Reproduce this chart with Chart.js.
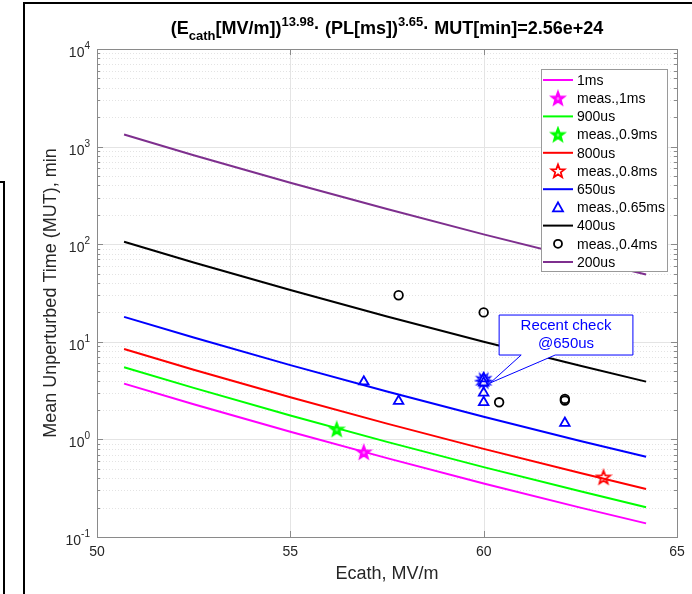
<!DOCTYPE html>
<html lang="en">
<head>
<meta charset="utf-8">
<title>Mean Unperturbed Time vs Ecath</title>
<script src="https://cdn.jsdelivr.net/npm/chart.js@4.4.1/dist/chart.umd.min.js"></script>
<style>
  html, body { margin: 0; padding: 0; background: #fff; }
  #wrap { width: 692px; height: 594px; }
</style>
</head>
<body>
<div id="wrap"><canvas id="mut" width="692" height="594"></canvas></div>
<script>
// fit lines: E^13.98 * PL^3.65 * MUT = 2.56e24, sampled along Ecath
const fitE      = [50.7, 52.5, 55, 57.5, 60, 62.5, 64.2];
const fit1ms    = [3.73, 2.29, 1.20, 0.643, 0.354, 0.200, 0.138];
const fit900us  = [5.49, 3.37, 1.76, 0.944, 0.520, 0.294, 0.202];
const fit800us  = [8.43, 5.18, 2.70, 1.451, 0.800, 0.452, 0.311];
const fit650us  = [18.0, 11.05, 5.77, 3.10, 1.71, 0.965, 0.664];
const fit400us  = [105.8, 65.0, 33.9, 18.2, 10.0, 5.68, 3.91];
const fit200us  = [1329, 816, 426, 229, 126, 71.3, 49.0];

// measurements
const meas1msE   = [56.9];
const meas1ms    = [0.74];
const meas09msE  = [56.2];
const meas09ms   = [1.27];
const meas08msE  = [63.1];
const meas08ms   = [0.41];
const meas065msE = [56.9, 57.8, 60, 60, 60, 60, 62.1];
const meas065ms  = [3.9, 2.47, 4.2, 3.8, 3.0, 2.4, 1.47];
const meas04msE  = [57.8, 60, 60.4, 62.1, 62.1];
const meas04ms   = [30, 20, 2.4, 2.6, 2.5];
const recentE    = [60];
const recentMUT  = [4.0];

const xTicks = [50, 55, 60, 65];
const yExp   = [-1, 0, 1, 2, 3, 4];

const FONT = '"Liberation Sans", Arial, Helvetica, sans-serif';
const AXIS_TXT = '#262626';

function pts(xs, ys) { return xs.map((x, i) => ({ x: x, y: ys[i] })); }

// five point star marker, drawn once into a small canvas
function starMarker(color, r, filled) {
  const c = document.createElement('canvas');
  const s = Math.ceil(r * 2 + 4);
  c.width = s; c.height = s;
  const g = c.getContext('2d');
  g.translate(s / 2, s / 2 + 0.5);
  g.beginPath();
  for (let i = 0; i < 10; i++) {
    const rr = i % 2 === 0 ? r : r * 0.42;
    const a = -Math.PI / 2 + i * Math.PI / 5;
    g.lineTo(rr * Math.cos(a), rr * Math.sin(a));
  }
  g.closePath();
  if (filled) { g.fillStyle = color; g.fill(); }
  g.strokeStyle = color;
  g.lineWidth = 1.8;
  g.stroke();
  if (filled) {
    g.fillStyle = 'rgba(255,255,255,0.45)';
    g.beginPath(); g.arc(0, 0, 1.4, 0, Math.PI * 2); g.fill();
  }
  return c;
}

// spiky burst used to flag the latest check
function burstMarker(color, r) {
  const c = document.createElement('canvas');
  const s = Math.ceil(r * 2 + 4);
  c.width = s; c.height = s;
  const g = c.getContext('2d');
  g.translate(s / 2, s / 2);
  g.beginPath();
  const n = 12;
  for (let i = 0; i < n * 2; i++) {
    const rr = i % 2 === 0 ? r : r * 0.55;
    const a = -Math.PI / 2 + i * Math.PI / n;
    g.lineTo(rr * Math.cos(a), rr * Math.sin(a));
  }
  g.closePath();
  g.strokeStyle = color;
  g.lineWidth = 1.2;
  g.stroke();
  return c;
}

const starMag = starMarker('#ff00ff', 7, true);
const starGrn = starMarker('#00ff00', 7, true);
const starRed = starMarker('#ff0000', 7, false);
const burstBlue = burstMarker('#0000ff', 8);

function lineSet(label, ys, color) {
  return {
    label: label, data: pts(fitE, ys), showLine: true,
    borderColor: color, backgroundColor: color, borderWidth: 2,
    pointRadius: 0, pointHoverRadius: 0, order: 2
  };
}

const datasets = [
  lineSet('1ms', fit1ms, '#ff00ff'),
  { label: 'meas.,1ms', data: pts(meas1msE, meas1ms), pointStyle: starMag, order: 1 },
  lineSet('900us', fit900us, '#00ff00'),
  { label: 'meas.,0.9ms', data: pts(meas09msE, meas09ms), pointStyle: starGrn, order: 1 },
  lineSet('800us', fit800us, '#ff0000'),
  { label: 'meas.,0.8ms', data: pts(meas08msE, meas08ms), pointStyle: starRed, order: 1 },
  lineSet('650us', fit650us, '#0000ff'),
  { label: 'meas.,0.65ms', data: pts(meas065msE, meas065ms), pointStyle: 'triangle',
    pointRadius: 5.5, borderColor: '#0000ff', backgroundColor: 'rgba(0,0,0,0)', borderWidth: 1.8, order: 1 },
  lineSet('400us', fit400us, '#000000'),
  { label: 'meas.,0.4ms', data: pts(meas04msE, meas04ms), pointStyle: 'circle',
    pointRadius: 4.3, borderColor: '#000000', backgroundColor: 'rgba(0,0,0,0)', borderWidth: 1.8, order: 1 },
  lineSet('200us', fit200us, '#7e2f8e'),
  { label: 'recent', data: pts(recentE, recentMUT), pointStyle: burstBlue, order: 0 }
];

// legend rows: [label, kind, color or marker]
const legendRows = [
  ['1ms', 'line', '#ff00ff'],
  ['meas.,1ms', 'img', starMag],
  ['900us', 'line', '#00ff00'],
  ['meas.,0.9ms', 'img', starGrn],
  ['800us', 'line', '#ff0000'],
  ['meas.,0.8ms', 'img', starRed],
  ['650us', 'line', '#0000ff'],
  ['meas.,0.65ms', 'tri', '#0000ff'],
  ['400us', 'line', '#000000'],
  ['meas.,0.4ms', 'circ', '#000000'],
  ['200us', 'line', '#7e2f8e']
];

// callout box in data units, pointer tip near the recent check
const callout = { x0: 60.40, x1: 63.86, yTop: 18.8, yBot: 7.32, gap0: 60.97, gap1: 61.85, tipX: 60.17, tipY: 3.79 };

const axesPlugin = {
  id: 'matlabAxes',
  beforeDatasetsDraw(chart) {
    const { ctx, chartArea: a, scales: { x, y } } = chart;
    ctx.save();
    ctx.fillStyle = '#fff';
    ctx.fillRect(a.left, a.top, a.right - a.left, a.bottom - a.top);
    // minor grid (dotted)
    ctx.strokeStyle = '#e3e3e3';
    ctx.lineWidth = 1;
    ctx.setLineDash([1, 2]);
    for (let e = -1; e < 4; e++) {
      for (let k = 2; k <= 9; k++) {
        const py = Math.round(y.getPixelForValue(k * Math.pow(10, e))) + 0.5;
        ctx.beginPath(); ctx.moveTo(a.left, py); ctx.lineTo(a.right, py); ctx.stroke();
      }
    }
    ctx.setLineDash([]);
    // major grid
    ctx.strokeStyle = '#e4e4e4';
    xTicks.slice(1, -1).forEach(v => {
      const px = Math.round(x.getPixelForValue(v)) + 0.5;
      ctx.beginPath(); ctx.moveTo(px, a.top); ctx.lineTo(px, a.bottom); ctx.stroke();
    });
    yExp.slice(1, -1).forEach(e => {
      const py = Math.round(y.getPixelForValue(Math.pow(10, e))) + 0.5;
      ctx.beginPath(); ctx.moveTo(a.left, py); ctx.lineTo(a.right, py); ctx.stroke();
    });
    ctx.restore();
  },
  afterDatasetsDraw(chart) {
    const { ctx, chartArea: a, scales: { x, y } } = chart;
    ctx.save();
    // axes box and inward ticks
    ctx.strokeStyle = '#8a8a8a';
    ctx.lineWidth = 1;
    ctx.strokeRect(Math.round(a.left) + 0.5, Math.round(a.top) + 0.5,
      Math.round(a.right - a.left), Math.round(a.bottom - a.top));
    ctx.beginPath();
    xTicks.forEach(v => {
      const px = Math.round(x.getPixelForValue(v)) + 0.5;
      ctx.moveTo(px, a.bottom); ctx.lineTo(px, a.bottom - 6);
      ctx.moveTo(px, a.top); ctx.lineTo(px, a.top + 6);
    });
    for (let e = -1; e <= 4; e++) {
      for (let k = 1; k <= 9; k++) {
        if (e === 4 && k > 1) break;
        const py = Math.round(y.getPixelForValue(k * Math.pow(10, e))) + 0.5;
        const len = k === 1 ? 6 : 3;
        ctx.moveTo(a.left, py); ctx.lineTo(a.left + len, py);
        ctx.moveTo(a.right, py); ctx.lineTo(a.right - len, py);
      }
    }
    ctx.stroke();

    // legend
    const L = { x: 541, y: 69, w: 126, h: 202, row: 18.2 };
    ctx.fillStyle = '#fff';
    ctx.fillRect(L.x, L.y, L.w, L.h);
    ctx.strokeStyle = '#9a9a9a';
    ctx.strokeRect(L.x + 0.5, L.y + 0.5, L.w, L.h);
    ctx.font = '14px ' + FONT;
    ctx.textBaseline = 'middle';
    ctx.textAlign = 'left';
    legendRows.forEach((r, i) => {
      const cy = L.y + 11 + i * L.row;
      const mx = 558;
      if (r[1] === 'line') {
        ctx.strokeStyle = r[2]; ctx.lineWidth = 2;
        ctx.beginPath(); ctx.moveTo(543, cy); ctx.lineTo(573, cy); ctx.stroke();
      } else if (r[1] === 'img') {
        ctx.drawImage(r[2], mx - r[2].width / 2, cy - r[2].height / 2);
      } else if (r[1] === 'tri') {
        ctx.strokeStyle = r[2]; ctx.lineWidth = 1.8;
        ctx.beginPath(); ctx.moveTo(mx, cy - 5); ctx.lineTo(mx + 5, cy + 4); ctx.lineTo(mx - 5, cy + 4); ctx.closePath(); ctx.stroke();
      } else {
        ctx.strokeStyle = r[2]; ctx.lineWidth = 1.8;
        ctx.beginPath(); ctx.arc(mx, cy, 4, 0, Math.PI * 2); ctx.stroke();
      }
      ctx.fillStyle = '#000';
      ctx.fillText(r[0], 577, cy + 1);
    });
    ctx.restore();
  },
  afterDraw(chart) {
    const { ctx, chartArea: a, scales: { x, y } } = chart;
    ctx.save();
    // tick labels
    ctx.fillStyle = AXIS_TXT;
    ctx.font = '14px ' + FONT;
    ctx.textAlign = 'center';
    ctx.textBaseline = 'top';
    xTicks.forEach(v => ctx.fillText(String(v), x.getPixelForValue(v), a.bottom + 8));
    yExp.forEach(e => {
      const py = y.getPixelForValue(Math.pow(10, e));
      const ex = String(e);
      ctx.font = '10px ' + FONT;
      const we = ctx.measureText(ex).width;
      ctx.font = '14px ' + FONT;
      const wb = ctx.measureText('10').width;
      const right = a.left - 7;
      ctx.textAlign = 'left';
      ctx.textBaseline = 'alphabetic';
      ctx.fillText('10', right - we - wb, py + 8);
      ctx.font = '10px ' + FONT;
      ctx.fillText(ex, right - we, py);
    });

    // axis titles
    ctx.font = '18px ' + FONT;
    ctx.textAlign = 'center';
    ctx.textBaseline = 'alphabetic';
    ctx.fillText('Ecath, MV/m', (a.left + a.right) / 2, 579);
    ctx.save();
    ctx.translate(56, (a.top + a.bottom) / 2);
    ctx.rotate(-Math.PI / 2);
    ctx.fillText('Mean Unperturbed Time (MUT), min', 0, 0);
    ctx.restore();

    // title with sub/superscripts
    const parts = [['(E', 18, 0], ['cath', 13, 6], ['[MV/m])', 18, 0], ['13.98', 13, -8],
      ['\u00b7 (PL[ms])', 18, 0], ['3.65', 13, -8], ['\u00b7 MUT[min]=2.56e+24', 18, 0]];
    let tw = 0;
    parts.forEach(p => { ctx.font = 'bold ' + p[1] + 'px ' + FONT; tw += ctx.measureText(p[0]).width; });
    let tx = (a.left + a.right) / 2 - tw / 2;
    ctx.fillStyle = '#000';
    ctx.textAlign = 'left';
    parts.forEach(p => {
      ctx.font = 'bold ' + p[1] + 'px ' + FONT;
      ctx.fillText(p[0], tx, 34 + p[2]);
      tx += ctx.measureText(p[0]).width;
    });

    // callout
    const bx0 = x.getPixelForValue(callout.x0), bx1 = x.getPixelForValue(callout.x1);
    const by0 = y.getPixelForValue(callout.yTop), by1 = y.getPixelForValue(callout.yBot);
    const g0 = x.getPixelForValue(callout.gap0), g1 = x.getPixelForValue(callout.gap1);
    const tipx = x.getPixelForValue(callout.tipX), tipy = y.getPixelForValue(callout.tipY);
    ctx.beginPath();
    ctx.moveTo(bx0, by0); ctx.lineTo(bx1, by0); ctx.lineTo(bx1, by1); ctx.lineTo(g1, by1);
    ctx.lineTo(tipx, tipy); ctx.lineTo(g0, by1); ctx.lineTo(bx0, by1); ctx.closePath();
    ctx.fillStyle = '#fff';
    ctx.fill();
    ctx.strokeStyle = '#0000ff';
    ctx.lineWidth = 1;
    ctx.stroke();
    ctx.fillStyle = '#0000ff';
    ctx.font = '15px ' + FONT;
    ctx.textAlign = 'center';
    ctx.textBaseline = 'middle';
    ctx.fillText('Recent check', (bx0 + bx1) / 2, by0 + 11);
    ctx.fillText('@650us', (bx0 + bx1) / 2, by0 + 29);

    // figure frame edges
    ctx.strokeStyle = '#000';
    ctx.lineWidth = 2;
    ctx.beginPath();
    ctx.moveTo(692, 3); ctx.lineTo(24, 3); ctx.lineTo(24, 594);
    ctx.moveTo(0, 182); ctx.lineTo(4, 182); ctx.lineTo(4, 594);
    ctx.stroke();
    ctx.restore();
  }
};

new Chart(document.getElementById('mut').getContext('2d'), {
  type: 'scatter',
  data: { datasets: datasets },
  options: {
    responsive: false,
    animation: false,
    layout: { padding: { left: 97, top: 49, right: 15, bottom: 57 } },
    plugins: { legend: { display: false }, tooltip: { enabled: false } },
    scales: {
      x: { type: 'linear', display: false, min: 50, max: 65 },
      y: { type: 'logarithmic', display: false, min: 0.1, max: 10000 }
    }
  },
  plugins: [axesPlugin]
});
</script>
</body>
</html>
